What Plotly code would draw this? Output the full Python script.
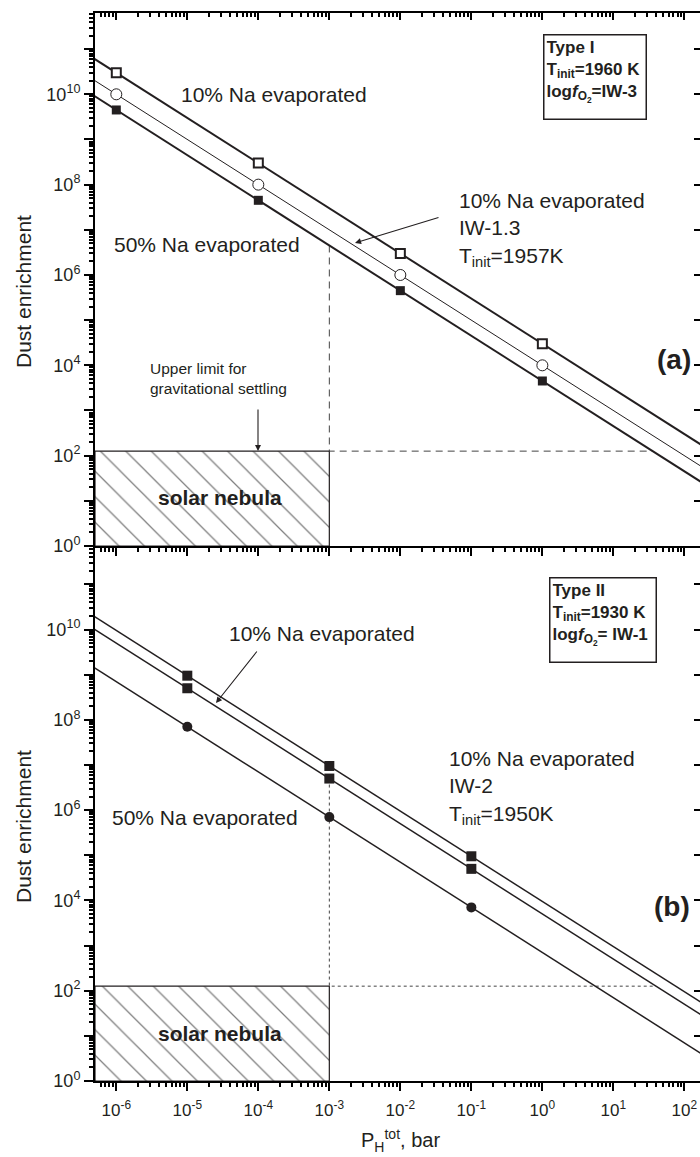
import numpy as np
import plotly.graph_objects as go

# ---------------- data ----------------
# (a) Type I, Tinit = 1960 K, logfO2 = IW-3
p_a = [1e-6, 1e-4, 1e-2, 1e0]
dust_a_10pct = [3e10, 3e8, 3e6, 3e4]          # open squares, 10% Na evaporated
dust_a_iw13 = [1e10, 1e8, 1e6, 1e4]           # open circles, 10% Na, IW-1.3, 1957 K
dust_a_50pct = [4.5e9, 4.5e7, 4.5e5, 4.5e3]   # filled squares, 50% Na evaporated

# (b) Type II, Tinit = 1930 K, logfO2 = IW-1
p_b = [1e-5, 1e-3, 1e-1]
dust_b_10pct = [9.5e8, 9.5e6, 9.5e4]          # 10% Na evaporated
dust_b_iw2 = [5e8, 5e6, 5e4]                  # 10% Na, IW-2, 1950 K
dust_b_50pct = [7e7, 7e5, 7e3]                # 50% Na evaporated

settling_limit = 126      # upper limit of dust enrichment for gravitational settling
nebula_p_max = 1e-3       # upper bound of solar-nebula pressure, bar

x_decades = list(range(-6, 3))
y_decades = list(range(0, 12))

# ---------------- layout constants ----------------
W, H = 700, 1157
ML, MR, MT, MB = 95, 0, 13, 76
X_RANGE = [-6.30, 2.22]
YA_RANGE = [0, 11.80]
YB_RANGE = [0, 11.85]
SPLIT = 535 / 1068

FONT = "Liberation Sans, Arial, sans-serif"
INK = "#231f20"


def px(xp):
    return (xp - ML) / (W - ML - MR)


def py(yp):
    return (H - MB - yp) / (H - MT - MB)


def fit(p, d):
    slope, icpt = np.polyfit(np.log10(p), np.log10(d), 1)
    return slope, icpt


def line_xy(p, d):
    slope, icpt = fit(p, d)
    lx = np.array([X_RANGE[0] - 0.1, X_RANGE[1] + 0.1])
    return 10 ** lx, 10 ** (icpt + slope * lx)


def guide_xy(p, d):
    # vertical drop from the fit at nebula_p_max to the settling limit,
    # then along the limit to where the fit crosses it
    slope, icpt = fit(p, d)
    y0 = 10 ** (icpt + slope * np.log10(nebula_p_max))
    x_cross = 10 ** ((np.log10(settling_limit) - icpt) / slope)
    return ([nebula_p_max, nebula_p_max, x_cross],
            [y0, settling_limit, settling_limit])


fig = go.Figure()


def add_panel(xa, ya, dash, series, guide_series):
    # hatched solar-nebula region
    x_lo = 10 ** (X_RANGE[0])
    fig.add_trace(go.Scatter(
        x=[x_lo, x_lo, nebula_p_max, nebula_p_max, x_lo],
        y=[1, settling_limit, settling_limit, 1, 1],
        mode="lines", fill="toself", fillcolor="white",
        fillpattern=dict(shape="\\", size=18, solidity=0.07,
                         fgcolor="black", bgcolor="white"),
        line=dict(color=INK, width=1.2),
        xaxis=xa, yaxis=ya, showlegend=False, hoverinfo="skip"))
    gx, gy = guide_xy(*guide_series)
    fig.add_trace(go.Scatter(
        x=gx, y=gy, mode="lines",
        line=dict(color="#444444", width=1, dash=dash),
        xaxis=xa, yaxis=ya, showlegend=False, hoverinfo="skip"))
    for p, d, lw, marker in series:
        lx, ly = line_xy(p, d)
        fig.add_trace(go.Scatter(
            x=lx, y=ly, mode="lines", line=dict(color=INK, width=lw),
            xaxis=xa, yaxis=ya, showlegend=False, hoverinfo="skip"))
        fig.add_trace(go.Scatter(
            x=p, y=d, mode="markers", marker=marker, cliponaxis=False,
            xaxis=xa, yaxis=ya, showlegend=False, hoverinfo="skip"))


open_sq = dict(symbol="square", size=9, color="white", line=dict(color=INK, width=2))
open_ci = dict(symbol="circle", size=11, color="white", line=dict(color=INK, width=1))
full_sq = dict(symbol="square", size=9, color=INK, line=dict(width=0))
full_sq_b = dict(symbol="square", size=10, color=INK, line=dict(width=0))
full_ci_b = dict(symbol="circle", size=10, color=INK, line=dict(width=0))

add_panel("x2", "y2", "7px,5px",
          [(p_a, dust_a_10pct, 2, open_sq),
           (p_a, dust_a_iw13, 1, open_ci),
           (p_a, dust_a_50pct, 2, full_sq)],
          (p_a, dust_a_50pct))
add_panel("x", "y", "3px,3px",
          [(p_b, dust_b_10pct, 1.5, full_sq_b),
           (p_b, dust_b_iw2, 1.5, full_sq_b),
           (p_b, dust_b_50pct, 1.5, full_ci_b)],
          (p_b, dust_b_iw2))

# invisible points so the overlay tick axes get drawn
for xa, ya in [("x3", "y2"), ("x2", "y3"), ("x", "y4")]:
    fig.add_trace(go.Scatter(x=[1e-6], y=[1e5], xaxis=xa, yaxis=ya, mode="markers",
                             marker=dict(size=1, opacity=0),
                             showlegend=False, hoverinfo="skip"))

x_minor = [k * 10.0 ** d for d in range(-7, 3) for k in range(2, 10)]
y_minor = [k * 10.0 ** d for d in range(0, 12) for k in range(2, 10)]
x_ticks = [10.0 ** d for d in x_decades]
x_text = ["10<sup>%d</sup>" % d for d in x_decades]
y_ticks = [10.0 ** d for d in y_decades]
y_text = ["10<sup>%d</sup>" % d if d % 2 == 0 and d <= 10 else " " for d in y_decades]

base = dict(type="log", showgrid=False, zeroline=False,
            linecolor="black", tickcolor="black")


def minor(side, vals):
    return dict(tickmode="array", tickvals=vals, ticks=side, ticklen=4,
                tickwidth=1.5, tickcolor="black")


x_minor_out = minor("outside", x_minor)
x_minor_in = minor("inside", x_minor)
y_minor_out = minor("outside", y_minor)

fig.update_layout(
    width=W, height=H,
    margin=dict(l=ML, r=MR, t=MT, b=MB, pad=0),
    paper_bgcolor="white", plot_bgcolor="white",
    font=dict(family=FONT, color=INK),
    xaxis=dict(base, domain=[0, 1], anchor="y", range=X_RANGE,
               tickmode="array", tickvals=x_ticks, ticktext=x_text,
               showline=True, linewidth=2, ticks="outside", ticklen=8, tickwidth=2,
               ticklabelstandoff=5,
               tickfont=dict(family=FONT, size=17, color=INK), minor=x_minor_out),
    yaxis=dict(base, domain=[0, SPLIT], anchor="x", range=YB_RANGE,
               tickmode="array", tickvals=y_ticks, ticktext=y_text,
               showline=True, linewidth=2, ticks="outside", ticklen=9, tickwidth=2,
               tickfont=dict(family=FONT, size=18, color=INK), minor=y_minor_out),
    xaxis2=dict(base, domain=[0, 1], anchor="y2", range=X_RANGE,
                tickmode="array", tickvals=x_ticks,
                showline=True, linewidth=2, ticks="outside", ticklen=8, tickwidth=2,
                showticklabels=False, minor=x_minor_out),
    yaxis2=dict(base, domain=[SPLIT, 1], anchor="x2", range=YA_RANGE,
                tickmode="array", tickvals=y_ticks, ticktext=y_text,
                showline=True, linewidth=2, ticks="outside", ticklen=9, tickwidth=2,
                tickfont=dict(family=FONT, size=18, color=INK), minor=y_minor_out),
    xaxis3=dict(base, overlaying="x2", anchor="y2", side="top", range=X_RANGE,
                tickmode="array", tickvals=x_ticks,
                showline=True, linewidth=2, ticks="inside", ticklen=7, tickwidth=2,
                showticklabels=False, minor=x_minor_in),
    yaxis3=dict(base, overlaying="y2", anchor="x2", side="right", range=YA_RANGE,
                tickmode="array", tickvals=y_ticks, ticks="inside", ticklen=6, tickwidth=2,
                showline=False, showticklabels=False),
    yaxis4=dict(base, overlaying="y", anchor="x", side="right", range=YB_RANGE,
                tickmode="array", tickvals=y_ticks, ticks="inside", ticklen=6, tickwidth=2,
                showline=False, showticklabels=False),
)

ann = []


def text(xp, yp, s, size, xanchor="left", bold=False, **kw):
    if bold:
        s = "<b>" + s + "</b>"
    ann.append(dict(x=px(xp), y=py(yp), xref="paper", yref="paper", text=s,
                    showarrow=False, xanchor=xanchor, yanchor="middle", align="left",
                    font=dict(family=FONT, size=size, color=INK), **kw))


def arrow(x_head, y_head, x_tail, y_tail):
    ann.append(dict(x=px(x_head), y=py(y_head), xref="paper", yref="paper", text="",
                    showarrow=True, ax=x_tail - x_head, ay=y_tail - y_head,
                    arrowhead=2, arrowsize=1.1, arrowwidth=1.1, arrowcolor=INK,
                    standoff=0, startstandoff=0))


# panel (a)
text(179, 95, "10% Na evaporated", 21)
text(112, 245, "50% Na evaporated", 21)
text(457, 229, "10% Na evaporated<br>IW-1.3<br>T<sub>init</sub>=1957K", 21)
arrow(355, 243, 440, 217)
text(148, 379, "Upper limit for<br>gravitational settling", 15.5)
arrow(258, 451, 258, 408)
text(220, 497, "solar nebula", 21, xanchor="center", bold=True)
text(693, 359, "(a)", 28, xanchor="right", bold=True)
ann.append(dict(x=px(543), y=py(34), xref="paper", yref="paper", xanchor="left", yanchor="top",
                text="<b>Type I<br>T<sub>init</sub>=1960 K<br>log<i>f</i><sub>O<sub>2</sub></sub>=IW-3</b>",
                showarrow=False, align="left", valign="top", width=97, height=79,
                bordercolor=INK, borderwidth=1.5, borderpad=2,
                font=dict(family=FONT, size=17, color=INK)))

# panel (b)
text(227, 633, "10% Na evaporated", 21)
arrow(216, 703, 258, 650)
text(110, 817, "50% Na evaporated", 21)
text(447, 787, "10% Na evaporated<br>IW-2<br>T<sub>init</sub>=1950K", 21)
text(220, 1033, "solar nebula", 21, xanchor="center", bold=True)
text(692, 907, "(b)", 28, xanchor="right", bold=True)
ann.append(dict(x=px(549), y=py(577), xref="paper", yref="paper", xanchor="left", yanchor="top",
                text="<b>Type II<br>T<sub>init</sub>=1930 K<br>log<i>f</i><sub>O<sub>2</sub></sub>= IW-1</b>",
                showarrow=False, align="left", valign="top", width=101, height=79,
                bordercolor=INK, borderwidth=1.5, borderpad=2,
                font=dict(family=FONT, size=17, color=INK)))

# axis titles
text(23, 292, "Dust enrichment", 21, xanchor="center", textangle=-90)
text(23, 827, "Dust enrichment", 21, xanchor="center", textangle=-90)
text(400, 1140, "P<sub>H</sub><sup>tot</sup>, bar", 20, xanchor="center")

fig.update_layout(annotations=ann)
fig.write_html("out.html")
